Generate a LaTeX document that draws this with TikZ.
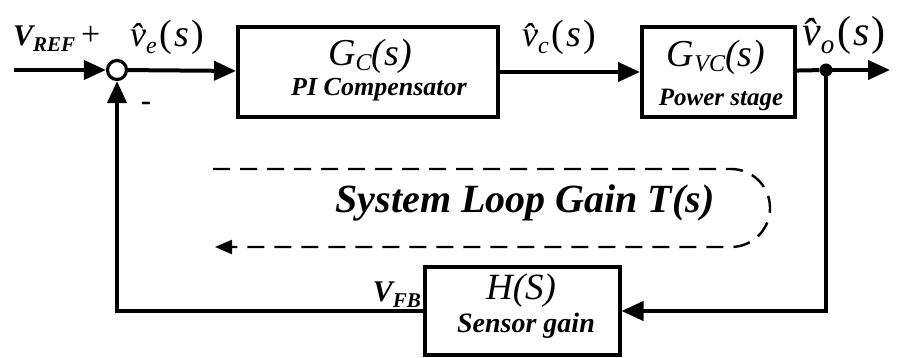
\documentclass[tikz,border=0pt]{standalone}
\usepackage{fontspec}
\setmainfont{Liberation Serif}
\usetikzlibrary{arrows.meta}
\newcommand{\fsz}[1]{\fontsize{#1}{#1}\selectfont}
\begin{document}
\begin{tikzpicture}[x=1pt,y=-1pt,
  blk/.style={draw,line width=4pt,rectangle,inner sep=0pt},
  sig/.style={line width=4pt,-{Triangle[length=22pt,width=19pt]}},
  wire/.style={line width=4pt},
  loopln/.style={line width=2.4pt,dash pattern=on 17pt off 10pt,-{Triangle[length=17pt,width=14pt]}},
  lbl/.style={inner sep=0pt,anchor=base}]
\useasboundingbox[fill=white] (0,0) rectangle (898,358);

% blocks
\node[blk,minimum width=260pt,minimum height=90pt] (gc) at (368,72) {};
\node[blk,minimum width=153pt,minimum height=90pt] (gvc) at (718.5,72) {};
\node[blk,minimum width=195pt,minimum height=88pt] (h) at (522,311) {};
\node[draw,circle,line width=3.2pt,minimum size=19pt,inner sep=0pt,fill=white] (sum) at (117,70) {};
\node[circle,fill=black,minimum size=13pt,inner sep=0pt] (dot) at (826,70) {};
\coordinate (in) at (14,70);
\coordinate (out) at (890,70);

% connectors
\draw[sig] (in) -- (sum);
\draw[sig] (sum) -- (gc);
\draw[sig] (gc) -- (gvc);
\draw[wire] (gvc) -- (dot);
\draw[sig] (dot.center) -- (out);
\draw[sig] (dot.center) |- (h.east);
\draw[sig] (h.west) -| (sum.south);

% loop gain dashed arrow
\coordinate (lt) at (213,169);
\coordinate (lr) at (731,169);
\coordinate (lb) at (215,247);
\draw[loopln] (lt) -- (lr) arc[start angle=-90,end angle=90,radius=39] -- (lb);

% block texts
\node[lbl] (gct) at (370,66) {\fsz{38}\itshape G\raisebox{-5pt}{\fsz{24}C}(s)};
\node[lbl] (gcs) at (379,96) {\fsz{26}\bfseries\itshape PI Compensator};
\node[lbl] (gvct) at (716,67) {\fsz{38}\itshape G\raisebox{-5pt}{\fsz{24}VC}(s)};
\node[lbl] (gvcs) at (721,106) {\fsz{25}\bfseries\itshape Power stage};
\node[lbl] (ht) at (521,300) {\fsz{37}\itshape H(S)};
\node[lbl] (hs) at (526,333) {\fsz{28}\bfseries\itshape Sensor gain};
\node[lbl] (lg) at (525,213) {\fsz{40}\bfseries\itshape System Loop Gain T(s)};

% signal labels
\node[inner sep=0pt,anchor=base west] (vref) at (13,46) {\fsz{30}\bfseries\itshape V\raisebox{-6pt}{\fsz{21}REF}\hspace{6pt}\mdseries\upshape\fsz{34}+};
\node[inner sep=0pt,anchor=base west] (ve) at (130,47) {\fsz{36}\itshape \^{v}\raisebox{-7pt}{\fsz{24}e}\hspace{3pt}\fsz{38}\upshape(\hspace{2pt}\itshape s\hspace{2pt}\upshape)};
\node[inner sep=0pt,anchor=base west] (vc) at (522,47) {\fsz{36}\itshape \^{v}\raisebox{-7pt}{\fsz{24}c}\hspace{3pt}\fsz{38}\upshape(\hspace{2pt}\itshape s\hspace{2pt}\upshape)};
\node[inner sep=0pt,anchor=base west] (vo) at (802,46) {\fsz{42}\itshape \^{v}\raisebox{-8pt}{\fsz{27}o}\hspace{3pt}\fsz{42}\upshape(\hspace{2pt}\itshape s\hspace{2pt}\upshape)};
\node[inner sep=0pt] (minus) at (146,106) {\fsz{30}\bfseries -};
\node[inner sep=0pt,anchor=base east] (vfb) at (421,302) {\fsz{30}\bfseries\itshape V\raisebox{-6pt}{\fsz{21}FB}};
\end{tikzpicture}
\end{document}
